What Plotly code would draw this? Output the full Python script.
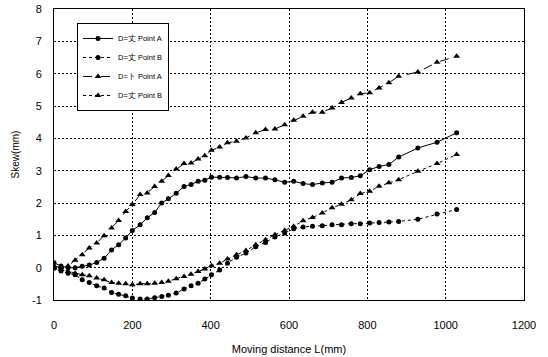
import plotly.graph_objects as go

x_mm = [0, 18, 36, 54, 72, 90, 109, 128, 147, 165, 183, 200, 220, 238, 257, 275, 292, 312,
        332, 350, 368, 385, 402, 423, 443, 466, 490, 515, 540, 564, 589, 612, 636, 660,
        685, 710, 734, 759, 782, 806, 830, 855, 880, 929, 978, 1028]

big_a = [0.15, 0.05, 0.0, 0.0, 0.04, 0.08, 0.16, 0.29, 0.55, 0.71, 0.92, 1.15, 1.33, 1.54,
         1.71, 2.0, 2.13, 2.3, 2.51, 2.57, 2.67, 2.70, 2.80, 2.80, 2.79, 2.77, 2.82, 2.77,
         2.77, 2.72, 2.64, 2.67, 2.60, 2.57, 2.62, 2.64, 2.77, 2.79, 2.84, 3.03, 3.13, 3.19,
         3.42, 3.70, 3.88, 4.17]

big_b = [-0.02, -0.1, -0.17, -0.22, -0.37, -0.46, -0.56, -0.63, -0.77, -0.82, -0.87, -0.94,
         -0.97, -0.97, -0.93, -0.89, -0.85, -0.78, -0.66, -0.56, -0.48, -0.35, -0.22, -0.07,
         0.14, 0.32, 0.45, 0.65, 0.78, 0.95, 1.07, 1.2, 1.26, 1.28, 1.30, 1.33, 1.33, 1.36,
         1.36, 1.38, 1.40, 1.41, 1.43, 1.50, 1.66, 1.80]

small_a = [0.05, 0.0, 0.05, 0.23, 0.40, 0.61, 0.76, 0.99, 1.23, 1.46, 1.74, 1.95, 2.26, 2.31,
           2.51, 2.67, 2.85, 3.05, 3.22, 3.24, 3.36, 3.46, 3.63, 3.73, 3.86, 3.91, 4.01, 4.17,
           4.27, 4.29, 4.42, 4.56, 4.68, 4.81, 4.81, 4.94, 5.11, 5.25, 5.38, 5.41, 5.56, 5.72,
           5.92, 6.05, 6.35, 6.54]

small_b = [0.0, -0.06, -0.12, -0.17, -0.22, -0.25, -0.32, -0.37, -0.46, -0.48, -0.50, -0.53,
           -0.50, -0.50, -0.48, -0.46, -0.42, -0.34, -0.27, -0.20, -0.12, -0.04, 0.06, 0.14,
           0.27, 0.40, 0.53, 0.71, 0.86, 1.02, 1.15, 1.28, 1.45, 1.55, 1.69, 1.85, 1.96, 2.10,
           2.29, 2.36, 2.52, 2.63, 2.72, 2.98, 3.22, 3.50]

names = ["D=丈 Point A", "D=丈 Point B", "D=ト Point A", "D=丈 Point B"]
x_ticks = [0, 200, 400, 600, 800, 1000, 1200]
y_ticks = [-1, 0, 1, 2, 3, 4, 5, 6, 7, 8]

series = [
    (big_a, "solid", "circle", 5),
    (big_b, "dot", "circle", 5),
    (small_a, "dash", "triangle-up", 6),
    (small_b, "dot", "triangle-up", 6),
]

fig = go.Figure()
for i, (ys, dash, sym, ms) in enumerate(series):
    fig.add_trace(go.Scatter(
        x=x_mm, y=ys, name=names[i], mode="lines+markers",
        line=dict(color="black", width=1, dash=dash),
        marker=dict(symbol=sym, size=ms, color="black"),
    ))

fig.update_layout(
    width=548, height=357,
    margin=dict(l=54, r=24, t=9, b=57),
    paper_bgcolor="white", plot_bgcolor="white",
    font=dict(family="Liberation Sans, Arial, sans-serif", color="black", size=11),
    showlegend=True,
    legend=dict(
        x=0.049, y=0.952, xanchor="left", yanchor="top",
        bgcolor="white", bordercolor="black", borderwidth=1,
        font=dict(size=7.5), tracegroupgap=0, traceorder="normal",
        itemwidth=30,
    ),
    xaxis=dict(
        range=[0, 1200], tickvals=x_ticks, ticktext=[str(v) for v in x_ticks],
        showgrid=True, gridcolor="black", gridwidth=1, griddash="2px,2px",
        zeroline=False, showline=True, linecolor="black", linewidth=1, mirror=True,
        ticks="", ticklabelstandoff=15, automargin=False,
        title=dict(text="Moving distance L(mm)", font=dict(size=11), standoff=15),
    ),
    yaxis=dict(
        range=[-1, 8], tickvals=y_ticks, ticktext=[str(v) for v in y_ticks],
        showgrid=True, gridcolor="black", gridwidth=1, griddash="2px,2px",
        zeroline=False, showline=True, linecolor="black", linewidth=1, mirror=True,
        ticks="", ticklabelstandoff=9, automargin=False,
        title=dict(text="Skew(mm)", font=dict(size=10), standoff=10),
    ),
)

fig.write_html("out.html", config={"displayModeBar": False},
               post_script="document.body.style.margin='0';")
